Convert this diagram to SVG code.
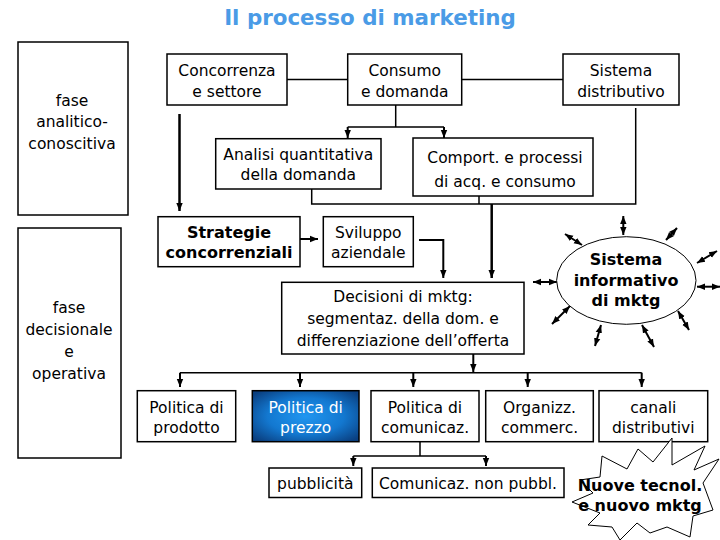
<svg xmlns="http://www.w3.org/2000/svg" width="720" height="540" viewBox="0 0 720 540">
<style>
.box{fill:#fff;stroke:#000;stroke-width:1.5}
.t{font-family:"DejaVu Sans","Verdana",sans-serif;font-size:15.5px;fill:#000;text-anchor:middle}
.b{font-family:"DejaVu Sans","Verdana",sans-serif;font-size:16px;font-weight:bold;fill:#000;text-anchor:middle}
.ln{fill:none;stroke:#000;stroke-width:1.5}
.ar{fill:none;stroke:#000;stroke-width:2;marker-end:url(#ah)}
.thk{fill:none;stroke:#000;stroke-width:2.5;marker-end:url(#ah)}
.dbl{fill:none;stroke:#000;stroke-width:2;marker-start:url(#ah);marker-end:url(#ah)}
</style>
<defs>
<marker id="ah" viewBox="0 0 10 10" refX="10" refY="5" markerUnits="userSpaceOnUse" markerWidth="8" markerHeight="8" orient="auto-start-reverse">
<path d="M0,1 L10,5 L0,9 z" fill="#000"/>
</marker>
<radialGradient id="blue" cx="50%" cy="50%" r="65%">
<stop offset="0" stop-color="#2196f0"/>
<stop offset="0.55" stop-color="#1378d0"/>
<stop offset="1" stop-color="#0a3f80"/>
</radialGradient>
</defs>
<rect width="720" height="540" fill="#fff"/>
<text x="370" y="25" font-family="DejaVu Sans, Verdana, sans-serif" font-size="21.4" font-weight="bold" fill="#4a9be6" text-anchor="middle">Il processo di marketing</text>

<g id="connectors">
<line class="thk" x1="179.5" y1="114" x2="179.5" y2="211"/>
<path class="ln" d="M287,79.5 H347.7 M461.7,79.5 H563"/>
<path class="ln" d="M395.7,105 V127 M347.7,127 H444"/>
<line class="ar" x1="347.7" y1="127" x2="347.7" y2="138"/>
<line class="ar" x1="444" y1="127" x2="444" y2="138"/>
<path class="ln" d="M311.7,189 V204 H635.7 V108 M479,196 V204"/>
<line class="thk" x1="491.7" y1="204" x2="491.7" y2="278"/>
<line class="ar" x1="300" y1="239" x2="318" y2="239"/>
<path class="ar" d="M419,240 H443.3 V278"/>
<line class="ar" x1="473.3" y1="354" x2="473.3" y2="372"/>
<path class="ln" d="M180,372.7 H641.7"/>
<line class="ar" x1="180" y1="372.7" x2="180" y2="387"/>
<line class="ar" x1="300" y1="372.7" x2="300" y2="387"/>
<line class="ar" x1="413.3" y1="372.7" x2="413.3" y2="387"/>
<line class="ar" x1="527.7" y1="372.7" x2="527.7" y2="387"/>
<line class="ar" x1="641.7" y1="372.7" x2="641.7" y2="387"/>
<path class="ln" d="M420,441 V456 M353.3,456 H486"/>
<line class="ar" x1="353.3" y1="456" x2="353.3" y2="466"/>
<line class="ar" x1="486" y1="456" x2="486" y2="466"/>
<line class="dbl" x1="623.3" y1="216" x2="623.3" y2="235"/>
<line class="dbl" x1="565" y1="234" x2="582" y2="245"/>
<line class="dbl" x1="677" y1="228" x2="666" y2="240"/>
<line class="dbl" x1="717" y1="251" x2="697" y2="263"/>
<line class="dbl" x1="697" y1="286.7" x2="720" y2="286.7"/>
<line class="dbl" x1="678" y1="311" x2="689" y2="330"/>
<line class="dbl" x1="642" y1="325" x2="654" y2="347"/>
<line class="dbl" x1="601" y1="325" x2="595" y2="346"/>
<line class="dbl" x1="570" y1="306" x2="552" y2="324"/>
<line class="dbl" x1="533" y1="282" x2="557" y2="282"/>
</g>

<g id="fase-analitico">
<rect class="box" x="18" y="42" width="110" height="173"/>
<text class="t" x="72" y="106">fase</text>
<text class="t" x="72" y="127">analitico-</text>
<text class="t" x="72" y="149">conoscitiva</text>
</g>
<g id="fase-decisionale">
<rect class="box" x="18" y="228" width="103" height="230"/>
<text class="t" x="69" y="313">fase</text>
<text class="t" x="69" y="335">decisionale</text>
<text class="t" x="69" y="357">e</text>
<text class="t" x="69" y="379">operativa</text>
</g>
<g id="concorrenza">
<rect class="box" x="167" y="54" width="120" height="51"/>
<text class="t" x="227" y="76">Concorrenza</text>
<text class="t" x="227" y="97">e settore</text>
</g>
<g id="consumo">
<rect class="box" x="347.7" y="54" width="114" height="51"/>
<text class="t" x="404.7" y="76">Consumo</text>
<text class="t" x="404.7" y="97">e domanda</text>
</g>
<g id="sistema-distributivo">
<rect class="box" x="563" y="54" width="116" height="51"/>
<text class="t" x="621" y="76">Sistema</text>
<text class="t" x="621" y="97">distributivo</text>
</g>
<g id="analisi">
<rect class="box" x="215.7" y="138.7" width="165.3" height="50.3"/>
<text class="t" x="298.3" y="160">Analisi quantitativa</text>
<text class="t" x="298.3" y="180">della domanda</text>
</g>
<g id="comport">
<rect class="box" x="413" y="138" width="180" height="58"/>
<text class="t" x="505" y="163">Comport. e processi</text>
<text class="t" x="505" y="187">di acq. e consumo</text>
</g>
<g id="strategie">
<rect class="box" x="158" y="216.7" width="142" height="50"/>
<text class="b" x="229" y="238.3">Strategie</text>
<text class="b" x="229" y="258.3">concorrenziali</text>
</g>
<g id="sviluppo">
<rect class="box" x="323.3" y="216.7" width="90" height="50"/>
<text class="t" x="368.3" y="238.3">Sviluppo</text>
<text class="t" x="368.3" y="258.3">aziendale</text>
</g>
<g id="decisioni">
<rect class="box" x="281.7" y="282.3" width="242.3" height="71.7"/>
<text class="t" x="403" y="302">Decisioni di mktg:</text>
<text class="t" x="403" y="324">segmentaz. della dom. e</text>
<text class="t" x="403" y="346">differenziazione dell’offerta</text>
</g>
<g id="sistema-informativo">
<ellipse cx="626.3" cy="280.5" rx="69.7" ry="43.8" fill="#fff" stroke="#000" stroke-width="1"/>
<text class="b" x="626" y="265">Sistema</text>
<text class="b" x="626" y="286">informativo</text>
<text class="b" x="626" y="306">di mktg</text>
</g>
<g id="politica-prodotto">
<rect class="box" x="137.3" y="390.7" width="98.4" height="51"/>
<text class="t" x="186.5" y="413.3">Politica di</text>
<text class="t" x="186.5" y="433.3">prodotto</text>
</g>
<g id="politica-prezzo">
<rect x="252.3" y="390.7" width="106.7" height="51" fill="url(#blue)" stroke="#000" stroke-width="1.5"/>
<text class="t" x="305.7" y="413.3" fill="#fff" style="fill:#fff">Politica di</text>
<text class="t" x="305.7" y="433.3" style="fill:#fff">prezzo</text>
</g>
<g id="politica-comunicaz">
<rect class="box" x="371" y="390.7" width="108" height="51"/>
<text class="t" x="425" y="413.3">Politica di</text>
<text class="t" x="425" y="433.3">comunicaz.</text>
</g>
<g id="organizz">
<rect class="box" x="485.7" y="390.7" width="107.6" height="51"/>
<text class="t" x="539.5" y="413.3">Organizz.</text>
<text class="t" x="539.5" y="433.3">commerc.</text>
</g>
<g id="canali">
<rect class="box" x="599" y="390.7" width="108.7" height="51"/>
<text class="t" x="653.3" y="413.3">canali</text>
<text class="t" x="653.3" y="433.3">distributivi</text>
</g>
<g id="pubblicita">
<rect class="box" x="269" y="468" width="92.7" height="29.5"/>
<text class="t" x="315.3" y="489.3">pubblicità</text>
</g>
<g id="comunicaz-non-pubbl">
<rect class="box" x="372.3" y="468" width="191.7" height="29.5"/>
<text class="t" x="468" y="489.3">Comunicaz. non pubbl.</text>
</g>
<g id="nuove-tecnol">
<polygon points="602,456 627,469 638,449 653,462 672,438 672,465 705,446 694,470 719,459 703,483 713,510 693,516 690,537 667,527 650,533 637,523 620,540 612,527 588,525 600,513 572,502 593,493 580,480 600,477" fill="#fff" stroke="#000" stroke-width="1"/>
<text class="b" x="640" y="491">Nuove tecnol.</text>
<text class="b" x="640" y="511">e nuovo mktg</text>
</g>
</svg>
